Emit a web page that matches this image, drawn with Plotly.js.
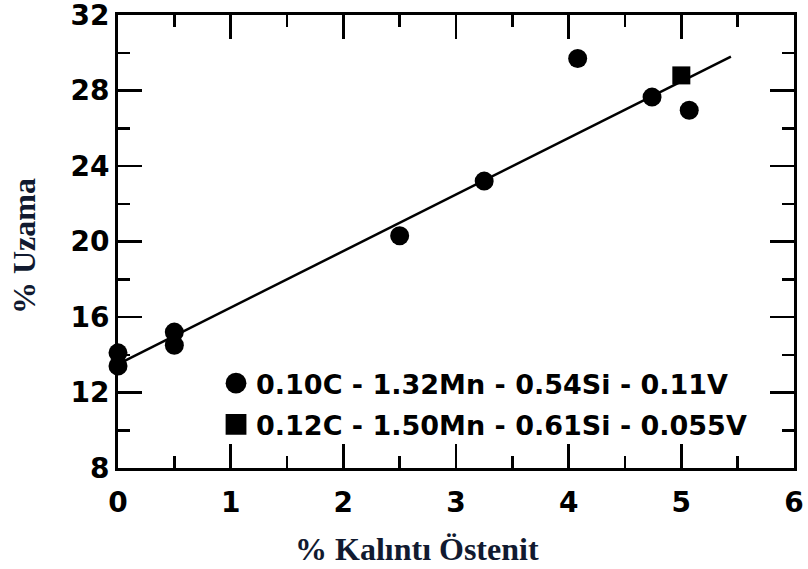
<!DOCTYPE html>
<html>
<head>
<meta charset="utf-8">
<script src="https://cdn.plot.ly/plotly-3.0.1.min.js"></script>
<style>html,body{margin:0;padding:0;background:#fff;}#chart{width:808px;height:569px;}</style>
</head>
<body>
<div id="chart"></div>
<script>
// Data
const seriesNames = ["0.10C - 1.32Mn - 0.54Si - 0.11V", "0.12C - 1.50Mn - 0.61Si - 0.055V"];
const circX = [0, 0, 0.5, 0.5, 2.5, 3.25, 4.08, 4.74, 5.07];
const circY = [14.1, 13.4, 15.2, 14.5, 20.3, 23.2, 29.7, 27.65, 26.95];
const sqX = [5.0];
const sqY = [28.8];
const fitX = [0.05, 5.44];
const fitY = [13.65, 29.8];
const xTicks = [0, 1, 2, 3, 4, 5, 6];
const yTicks = [8, 12, 16, 20, 24, 28, 32];
const xTitle = "% Kalıntı Östenit";
const yTitle = "% Uzama";

const tickFont = {family: "DejaVu Sans", size: 28, color: "#000", weight: "bold"};
const titleFont = {family: "Liberation Serif", size: 32, color: "#111a30", weight: "bold"};

const traces = [
  {x: fitX, y: fitY, mode: "lines", line: {color: "#000", width: 2.5}, showlegend: false, hoverinfo: "skip"},
  {x: circX, y: circY, mode: "markers", name: seriesNames[0], legendgroup: "a",
   marker: {symbol: "circle", size: 19, color: "#000"}, cliponaxis: false},
  {x: sqX, y: sqY, mode: "markers", name: seriesNames[1], legendgroup: "b",
   marker: {symbol: "square", size: 18, color: "#000"}, cliponaxis: false}
];

const layout = {
  width: 808, height: 569,
  margin: {l: 118, r: 14, t: 15, b: 101},
  paper_bgcolor: "#fff", plot_bgcolor: "#fff",
  showlegend: true,
  legend: {
    x: 0.145, y: 0.141, xanchor: "left", yanchor: "middle",
    bgcolor: "rgba(0,0,0,0)", borderwidth: 0,
    font: {family: "DejaVu Sans", size: 27, color: "#000", weight: "bold"},
    itemsizing: "trace", tracegroupgap: 3
  },
  xaxis: {
    range: [0, 6], tickvals: xTicks, ticktext: xTicks.map(String),
    showgrid: false, zeroline: false, showline: true, linecolor: "#000", linewidth: 3,
    mirror: "ticks", ticks: "inside", tickcolor: "#000", tickwidth: 2.5, ticklen: 24,
    tickfont: tickFont, ticklabeloverflow: "allow", ticklabelstandoff: 7,
    minor: {dtick: 0.5, ticks: "inside", ticklen: 12, tickwidth: 2.5, tickcolor: "#000"}
  },
  yaxis: {
    range: [8, 32], tickvals: yTicks, ticktext: yTicks.map(String),
    showgrid: false, zeroline: false, showline: true, linecolor: "#000", linewidth: 3,
    mirror: "ticks", ticks: "inside", tickcolor: "#000", tickwidth: 2.5, ticklen: 24,
    tickfont: tickFont, ticklabeloverflow: "allow", ticklabelstandoff: 0,
    minor: {dtick: 2, ticks: "inside", ticklen: 12, tickwidth: 2.5, tickcolor: "#000"}
  },
  annotations: [
    {text: xTitle, xref: "paper", yref: "paper", x: (417 - 118) / 676, y: (468 - 549) / 453,
     xanchor: "center", yanchor: "middle", showarrow: false, font: titleFont},
    {text: yTitle, xref: "paper", yref: "paper", x: (24 - 118) / 676, y: (468 - 246) / 453,
     xanchor: "center", yanchor: "middle", showarrow: false, textangle: -90, font: titleFont}
  ]
};

Plotly.newPlot("chart", traces, layout, {displayModeBar: false, staticPlot: true}).then(function(gd){
  // legend symbols are capped at 16px by Plotly; enlarge them to match the reference key
  gd.querySelectorAll(".legend .legendpoints path.scatterpts").forEach(function(p){
    var t = p.getAttribute("transform") || "";
    p.setAttribute("transform", t + " scale(1.3)");
  });
});
</script>
</body>
</html>
